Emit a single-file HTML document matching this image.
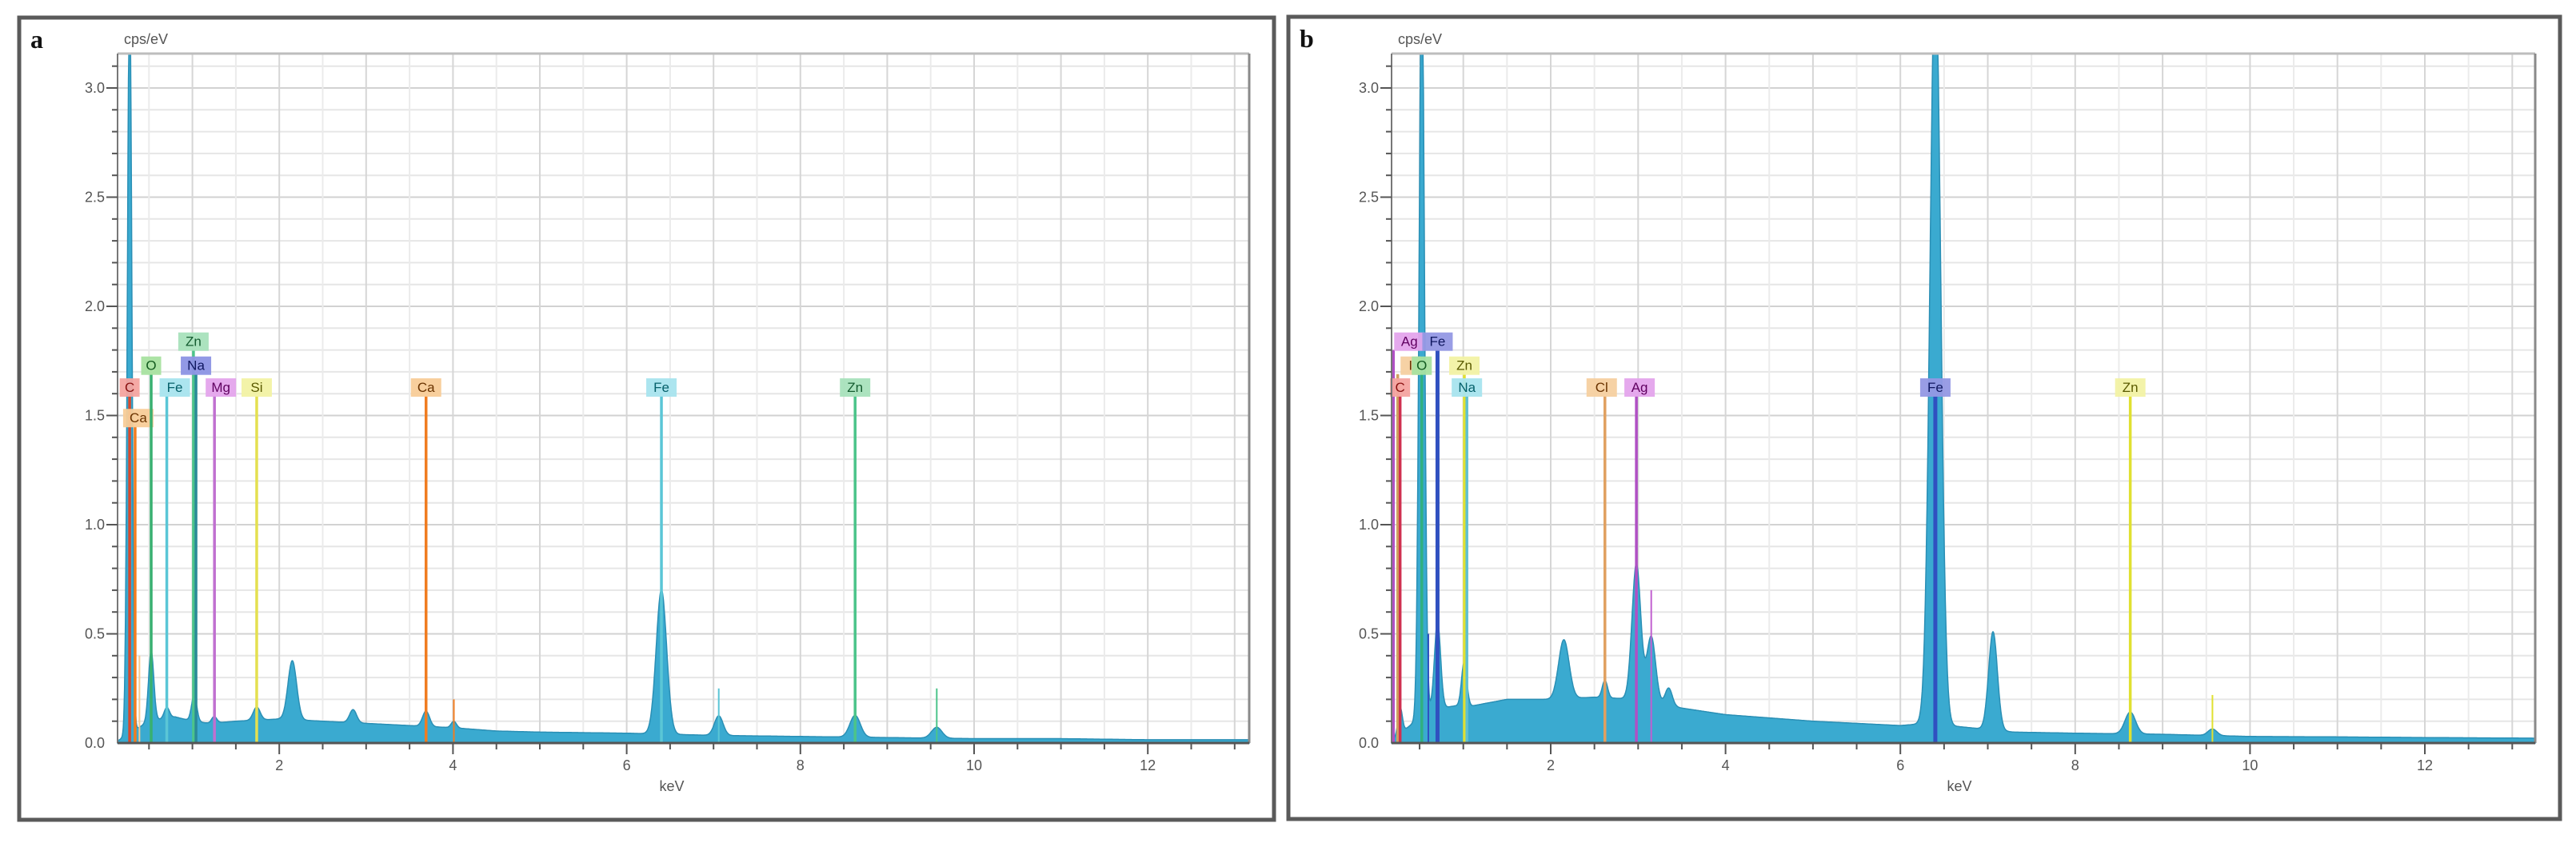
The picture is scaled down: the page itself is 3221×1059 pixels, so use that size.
<!DOCTYPE html>
<html><head><meta charset="utf-8"><style>
html,body{margin:0;padding:0;background:#fff;}
svg{display:block;font-family:"Liberation Sans",sans-serif;}
</style></head><body>
<svg id="root" width="3221" height="1059" viewBox="0 0 3221 1059" xmlns="http://www.w3.org/2000/svg"></svg>
<script>
// ===== DATA: panel a =====
const bgEnergyA = [0.1,0.3,0.5,0.8,1.0,1.2,1.5,2.0,2.5,3.0,3.5,4.0,4.5,5.0,6.0,7.0,8.0,9.0,10,11,12,13.3];
const bgValueA  = [0,0.05,0.1,0.12,0.1,0.09,0.1,0.11,0.1,0.09,0.08,0.07,0.055,0.05,0.045,0.035,0.03,0.025,0.02,0.02,0.015,0.015];
const peakEnergyA = [0.277,0.525,0.705,1.02,1.25,1.74,2.15,2.85,3.69,4.01,6.40,7.06,8.63,9.57];
const peakHeightA = [3.5,0.32,0.05,0.12,0.03,0.06,0.27,0.06,0.07,0.03,0.66,0.09,0.10,0.05];
const peakWidthA  = [0.025,0.03,0.03,0.03,0.03,0.04,0.05,0.04,0.04,0.03,0.06,0.05,0.06,0.06];
const markerEnergyA = [0.277,0.34,0.525,0.705,1.012,1.041,1.254,1.74,3.69,6.40,8.63];
const markerLabelA  = ["C","Ca","O","Fe","Zn","Na","Mg","Si","Ca","Fe","Zn"];
const markerLevelA  = [1.63,1.49,1.73,1.63,1.84,1.73,1.63,1.63,1.63,1.63,1.63];
const minorEnergyA = [4.01,7.06,8.63,9.57,0.39];
const minorTopA    = [0.2,0.25,0.8,0.25,0.4];
// ===== DATA: panel b =====
const bgEnergyB = [0.15,0.3,0.6,0.9,1.1,1.5,2.0,2.5,3.0,3.5,4.0,5.0,6.0,6.3,6.8,7.3,8.0,9.0,10,11,12,13.3];
const bgValueB  = [0,0.05,0.15,0.17,0.17,0.2,0.2,0.21,0.2,0.16,0.13,0.1,0.08,0.09,0.07,0.05,0.045,0.04,0.03,0.028,0.025,0.022];
const peakEnergyB = [0.277,0.525,0.705,1.01,2.15,2.62,2.98,3.15,3.35,6.40,7.06,8.63,9.57];
const peakHeightB = [0.12,3.5,0.4,0.2,0.27,0.08,0.62,0.3,0.08,3.5,0.45,0.1,0.03];
const peakWidthB  = [0.025,0.03,0.035,0.03,0.06,0.03,0.05,0.05,0.04,0.06,0.05,0.06,0.05];
const markerEnergyB = [0.2,0.25,0.277,0.525,0.705,1.012,1.041,2.62,2.98,6.40,8.63];
const markerLabelB  = ["Ag","I","C","O","Fe","Zn","Na","Cl","Ag","Fe","Zn"];
const markerLevelB  = [1.84,1.73,1.63,1.73,1.84,1.73,1.63,1.63,1.63,1.63,1.63];
const minorEnergyB = [3.15,9.57,0.6];
const minorTopB    = [0.7,0.22,0.5];
const yTickLabels = ["0.0","0.5","1.0","1.5","2.0","2.5","3.0"];
const xTickLabels = ["2","4","6","8","10","12"];

// ===== style tables (not data) =====
const styleMap = {
  C:{line:"#d8482c",bg:"#f4a4a0",fg:"#8a1010"},
  Ca:{line:"#f07c20",bg:"#f8cc98",fg:"#6a3300"},
  O:{line:"#38b070",bg:"#a8e2a0",fg:"#145c20"},
  Fe:{line:"#5ac6d6",bg:"#a8e4ee",fg:"#05606a"},
  Zn:{line:"#4cc48a",bg:"#a8e2bc",fg:"#145c30"},
  Na:{line:"#2a8a98",bg:"#8c94e4",fg:"#101860"},
  Mg:{line:"#c070d0",bg:"#e4a4ec",fg:"#600060"},
  Si:{line:"#e4e050",bg:"#f2f2a4",fg:"#5a5a00"},
  Ag:{line:"#b050c4",bg:"#e4a4ec",fg:"#600060"},
  I:{line:"#d0a060",bg:"#f6d0a0",fg:"#6a3300"},
  Cl:{line:"#e0a060",bg:"#f6d0a0",fg:"#6a3300"}
};
const styleB = {
  C:{line:"#d03050",bg:"#f4a4a0",fg:"#8a1010"},
  O:{line:"#30b080",bg:"#a8e2a0",fg:"#145c20"},
  Fe:{line:"#3050c0",bg:"#9498e4",fg:"#101860"},
  Zn:{line:"#e0e030",bg:"#f2f2a4",fg:"#5a5a00"},
  Na:{line:"#60c0d0",bg:"#a8e4ee",fg:"#05606a"}
};

const NS="http://www.w3.org/2000/svg";
const root=document.getElementById('root');
function mk(tag,attrs,parent){const e=document.createElementNS(NS,tag);for(const k in attrs)e.setAttribute(k,attrs[k]);(parent||root).appendChild(e);return e;}
function interp(xs,ys,x){if(x<=xs[0])return ys[0];for(let i=1;i<xs.length;i++){if(x<=xs[i]){const t=(x-xs[i-1])/(xs[i]-xs[i-1]);return ys[i-1]+t*(ys[i]-ys[i-1]);}}return ys[ys.length-1];}

function drawPanel(cfg){
  const g=mk('g',{});
  
  
  const X=e=>cfg.x0+cfg.kx*e, Y=v=>cfg.base-cfg.ky*v;
  const eMin=(cfg.left-cfg.x0)/cfg.kx, eMax=(cfg.right-cfg.x0)/cfg.kx, vMax=(cfg.base-cfg.top)/cfg.ky;
  const fr=mk('rect',{x:cfg.fx,y:cfg.fy,width:cfg.fw,height:cfg.fh,fill:'none',stroke:'#5a5a5a','stroke-width':5},g);
  
  
  const lt=mk('text',{x:cfg.fx+14,y:cfg.fy+38,'font-family':'Liberation Serif, serif','font-weight':'bold','font-size':32,fill:'#111'},g);
  lt.textContent=cfg.letter;
  
  
  // grid
  const grid=mk('g',{},g);
  
  
  for(let i=1;i*0.1<=vMax;i++){const y=Y(i*0.1);mk('line',{x1:cfg.left,x2:cfg.right,y1:y,y2:y,stroke:i%5==0?'#d2d2d2':'#e6e6e6','stroke-width':2},grid);}
  for(let e=0.5;e<eMax;e+=0.5){if(e<eMin)continue;const x=X(e);mk('line',{x1:x,x2:x,y1:cfg.top,y2:cfg.base,stroke:(e%1==0)?'#d6d6d6':'#ebebeb','stroke-width':2},grid);}
  // spectrum
  let pts=[];
  for(let e=eMin;e<=eMax;e+=0.005){
    let v=interp(cfg.bgE,cfg.bgV,e);
    for(let k=0;k<cfg.pE.length;k++){const d=(e-cfg.pE[k])/cfg.pW[k];v+=cfg.pH[k]*Math.exp(-0.5*d*d);}
    v=Math.min(v,vMax);
    pts.push(X(e).toFixed(1)+','+Y(v).toFixed(1));
  }
  const poly=mk('polygon',{points:X(eMin)+','+cfg.base+' '+pts.join(' ')+' '+X(eMax)+','+cfg.base,fill:'#3aaad0',stroke:'#2a8fb5','stroke-width':1.5},g);
  
  
  // minor lines
  for(let k=0;k<cfg.mnE.length;k++){
    const l=mk('line',{x1:X(cfg.mnE[k]),x2:X(cfg.mnE[k]),y1:cfg.base,y2:Y(cfg.mnT[k]),stroke:cfg.mnC[k],'stroke-width':2},g);
    
    
  }
  // markers
  for(let k=0;k<cfg.mE.length;k++){
    const lab=cfg.mL[k];const st=(cfg.sty&&cfg.sty[lab])||styleMap[lab];
    const x=X(cfg.mE[k]);const ly=Y(cfg.mLev[k]);
    const ln=mk('line',{x1:x,x2:x,y1:cfg.base,y2:ly+11,stroke:st.line,'stroke-width':lab=='Fe'&&cfg.letter=='b'?5:3.5},g);
    
    
    const w=lab.length*13+12;
    const bx=x+(cfg.off[k]||0)-w/2;
    const r=mk('rect',{x:bx,y:ly-11,width:w,height:23,fill:st.bg,opacity:0.95},g);
    
    
    const t=mk('text',{x:bx+w/2,y:ly+6,'text-anchor':'middle','font-size':17,fill:st.fg},g);
    t.textContent=lab;
    
    
  }
  // plot border
  mk('line',{x1:cfg.left,x2:cfg.right,y1:cfg.top,y2:cfg.top,stroke:'#bdbdbd','stroke-width':3},g);
  mk('line',{x1:cfg.right,x2:cfg.right,y1:cfg.top,y2:cfg.base,stroke:'#8a8a8a','stroke-width':3},g);
  const ya=mk('line',{x1:cfg.left,x2:cfg.left,y1:cfg.top,y2:cfg.base,stroke:'#777','stroke-width':2},g);
  
  
  const xa=mk('line',{x1:cfg.left,x2:cfg.right,y1:cfg.base,y2:cfg.base,stroke:'#555','stroke-width':3},g);
  
  
  for(let i=1;i*0.1<=vMax;i++){const y=Y(i*0.1);mk('line',{x1:cfg.left-(i%5==0?14:7),x2:cfg.left,y1:y,y2:y,stroke:'#555','stroke-width':2},g);}
  yTickLabels.forEach((s,i)=>{const t=mk('text',{x:cfg.left-16,y:Y(i*0.5)+6,'text-anchor':'end','font-size':18,fill:'#555'},g);t.textContent=s;
    
    });
  for(let e=0.5;e<eMax;e+=0.5){if(e<eMin)continue;const x=X(e);mk('line',{x1:x,x2:x,y1:cfg.base,y2:cfg.base+(e%2==0?14:8),stroke:'#555','stroke-width':2},g);}
  xTickLabels.forEach(s=>{const t=mk('text',{x:X(+s),y:cfg.base+34,'text-anchor':'middle','font-size':18,fill:'#555'},g);t.textContent=s;
    
    });
  const xt=mk('text',{x:cfg.kevX,y:cfg.base+60,'text-anchor':'middle','font-size':18,fill:'#555'},g);xt.textContent='keV';
  
  
  const yt=mk('text',{x:cfg.left+8,y:cfg.top-12,'font-size':18,fill:'#555'},g);yt.textContent='cps/eV';
  
  
}

drawPanel({name:'panel-a',letter:'a',fx:24,fy:22,fw:1569,fh:1003,left:147,right:1562,top:67,base:929,x0:132,kx:108.6,ky:273,kevX:840,
  bgE:bgEnergyA,bgV:bgValueA,pE:peakEnergyA,pH:peakHeightA,pW:peakWidthA,
  mE:markerEnergyA,mL:markerLabelA,mLev:markerLevelA,off:[0,4,0,10,0,0,8,0,0,0,0],
  mnE:minorEnergyA,mnT:minorTopA,mnC:['#f07c20','#5ac6d6','#4cc48a','#4cc48a','#f8c890']});
drawPanel({name:'panel-b',letter:'b',fx:1611,fy:21,fw:1590,fh:1003,left:1740,right:3170,top:67,base:929,x0:1720.4,kx:109.3,ky:273,kevX:2450,
  bgE:bgEnergyB,bgV:bgValueB,pE:peakEnergyB,pH:peakHeightB,pW:peakWidthB,
  mE:markerEnergyB,mL:markerLabelB,mLev:markerLevelB,off:[20,16,0,0,0,0,0,-4,4,0,0],sty:styleB,
  mnE:minorEnergyB,mnT:minorTopB,mnC:['#c060d0','#e0e030','#3050c0']});
</script>
</body></html>
